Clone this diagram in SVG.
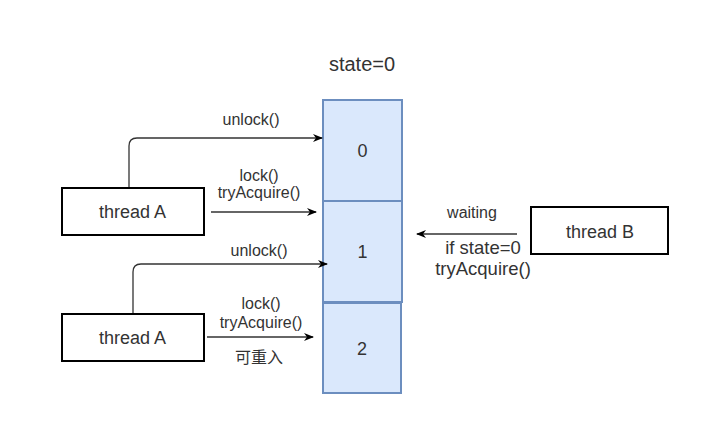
<svg xmlns="http://www.w3.org/2000/svg" width="707" height="427" viewBox="0 0 707 427">
<defs>
<marker id="arr" viewBox="0 0 10 10" refX="9" refY="5" markerWidth="10" markerHeight="10" markerUnits="userSpaceOnUse" orient="auto">
<path d="M0,1 L10,5 L0,9 L3,5 Z" fill="#000"/>
</marker>
</defs>
<style>
text{font-family:"Liberation Sans",Arial,"Noto Sans CJK SC",sans-serif;fill:#333;text-anchor:middle}
.cell{fill:#dae8fc;stroke:#6c8ebf;stroke-width:2}
.th{fill:#fff;stroke:#000;stroke-width:2}
.ln{fill:none;stroke:#333;stroke-width:1.3;marker-end:url(#arr)}
.lbl{font-size:16px}
.tn{font-size:18px}
.big{font-size:18.5px}
.st{font-size:20px}
</style>
<rect width="707" height="427" fill="#fff"/>
<text x="362" y="71" class="st">state=0</text>
<g id="cell0"><rect class="cell" x="323" y="100" width="79" height="101"/><text x="362.5" y="157" class="tn">0</text></g>
<g id="cell1"><rect class="cell" x="323" y="201" width="79" height="101"/><text x="362.5" y="258" class="tn">1</text></g>
<g id="cell2"><rect class="cell" x="323" y="303" width="78" height="90"/><text x="362" y="355" class="tn">2</text></g>
<g id="threadA1"><rect class="th" x="62" y="188" width="142" height="47"/><text x="132.5" y="218" class="tn">thread A</text></g>
<g id="threadA2"><rect class="th" x="62" y="314" width="142" height="47"/><text x="132.5" y="344" class="tn">thread A</text></g>
<g id="threadB"><rect class="th" x="531" y="207" width="137" height="47"/><text x="600" y="238" class="tn">thread B</text></g>
<g id="connectors">
<path class="ln" d="M129,187 V146 Q129,138 137,138 H322"/>
<path class="ln" d="M211,212 H316"/>
<path class="ln" d="M133,313 V272 Q133,264 141,264 H327"/>
<path class="ln" d="M207,337 H313"/>
<path class="ln" d="M517,234 H417"/>
</g>
<g id="labels">
<text x="251" y="125" class="lbl">unlock()</text>
<text x="259" y="181" class="lbl">lock()</text>
<text x="259" y="198" class="lbl">tryAcquire()</text>
<text x="259" y="256" class="lbl">unlock()</text>
<text x="261" y="309" class="lbl">lock()</text>
<text x="261" y="328" class="lbl">tryAcquire()</text>
<text x="259" y="363" class="lbl">可重入</text>
<text x="472" y="218" class="lbl">waiting</text>
<text x="483" y="254" class="big">if state=0</text>
<text x="483" y="275" class="big">tryAcquire()</text>
</g>
</svg>
